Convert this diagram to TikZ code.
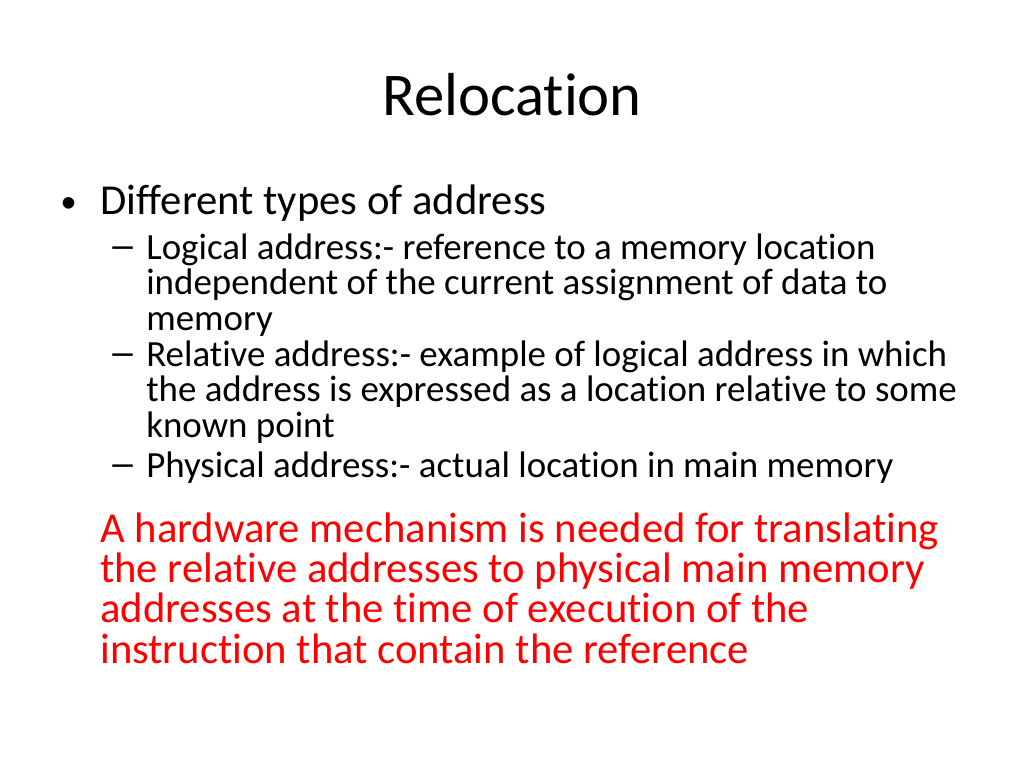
\documentclass[tikz,border=0pt]{standalone}
\usepackage{fontspec}
\setmainfont{Carlito}[Ligatures={NoCommon}]
\newfontfamily\markfont{Liberation Sans}
\begin{document}
\begin{tikzpicture}[x=0.75pt,y=-0.75pt,
    every node/.style={inner sep=0pt,anchor=base west},
    titletext/.style={font=\fontsize{45.5}{50}\selectfont,anchor=base},
    leveltext/.style={font=\fontsize{32}{36}\selectfont},
    subtext/.style={font=\fontsize{27.7}{30}\selectfont},
    dashmark/.style={font=\markfont\fontsize{27.7}{30}\selectfont},
    redtext/.style={leveltext,text=red}]
    \useasboundingbox[fill=white] (0,0) rectangle (1024,768);

    \node[titletext] (title) at (512,115) {Relocation};

    \node[font=\markfont\fontsize{32}{36}\selectfont] (dot) at (61,217) {•};
    \node[leveltext] (types) at (100,214) {Different types of address};

    \node[dashmark] (dashA) at (112,257) {–};
    \node[subtext] (logA) at (146,259) {Logical address:- reference to a memory location};
    \node[subtext] (logB) at (146,294.6) {independent of the current assignment of data to};
    \node[subtext] (logC) at (146,330.2) {memory};

    \node[dashmark] (dashB) at (112,364) {–};
    \node[subtext] (relA) at (146,366) {Relative address:- example of logical address in which};
    \node[subtext] (relB) at (146,401.6) {the address is expressed as a location relative to some};
    \node[subtext] (relC) at (146,437.2) {known point};

    \node[dashmark] (dashC) at (112,475) {–};
    \node[subtext] (phys) at (146,477) {Physical address:- actual location in main memory};

    \node[redtext] (hwA) at (100,542) {A hardware mechanism is needed for translating};
    \node[redtext] (hwB) at (100,582.5) {the relative addresses to physical main memory};
    \node[redtext] (hwC) at (100,622.8) {addresses at the time of execution of the};
    \node[redtext] (hwD) at (100,663) {instruction that contain the reference};
\end{tikzpicture}
\end{document}
